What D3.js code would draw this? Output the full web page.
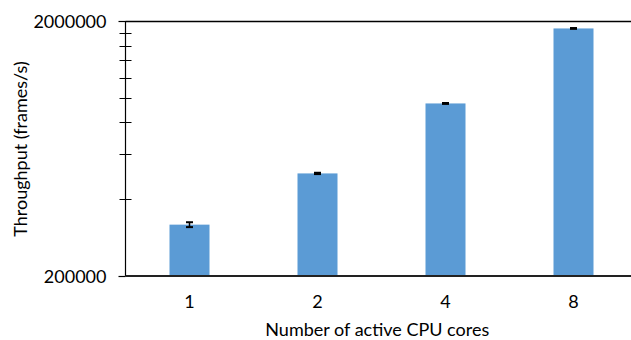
<!DOCTYPE html>
<html>
<head>
<meta charset="utf-8">
<script src="https://cdn.jsdelivr.net/npm/d3@7/dist/d3.min.js"></script>
<style>
  html, body { margin: 0; padding: 0; background: #fff; }
  svg { display: block; }
  text { font-family: Lato, "Open Sans", sans-serif; fill: #000; font-size: 18px; }
</style>
</head>
<body>
<svg id="chart" width="631" height="340"></svg>
<script>
// Throughput by number of active CPU cores (log scale)
const cores = ["1", "2", "4", "8"];
const throughput = [318000, 505000, 950000, 1870000];
const errors = [7000, 3000, 4000, 7000];
const yTickLabels = [200000, 2000000];
const yMinorTicks = [400000, 600000, 800000, 1000000, 1200000, 1400000, 1600000, 1800000];

const svg = d3.select("#chart");
const plotLeft = 125.5, plotRight = 637.5, plotTop = 21, plotBottom = 276;

const x = d3.scaleBand().domain(cores).range([plotLeft, plotRight]).paddingInner(0.6875).paddingOuter(0.34375);
const y = d3.scaleLog().domain([200000, 2000000]).range([plotBottom, plotTop]);

// top frame line
svg.append("line")
  .attr("x1", plotLeft).attr("x2", 631).attr("y1", plotTop + 0.5).attr("y2", plotTop + 0.5)
  .attr("stroke", "#000").attr("stroke-width", 1.5);

// bars
svg.append("g").selectAll("rect").data(cores).join("rect")
  .attr("x", d => x(d))
  .attr("width", x.bandwidth())
  .attr("y", (d, i) => y(throughput[i]))
  .attr("height", (d, i) => plotBottom - y(throughput[i]))
  .attr("fill", "#5B9BD5");

// error bars
const eb = svg.append("g").attr("stroke", "#000").attr("stroke-width", 1.5);
cores.forEach((d, i) => {
  const cx = x(d) + x.bandwidth() / 2;
  const y0 = y(throughput[i] - errors[i]);
  const y1 = y(throughput[i] + errors[i]);
  eb.append("line").attr("x1", cx).attr("x2", cx).attr("y1", y0).attr("y2", y1);
  eb.append("line").attr("x1", cx - 3.5).attr("x2", cx + 3.5).attr("y1", y0).attr("y2", y0).attr("stroke-width", 2);
  eb.append("line").attr("x1", cx - 3.5).attr("x2", cx + 3.5).attr("y1", y1).attr("y2", y1).attr("stroke-width", 2);
});

// y axis: labeled major ticks outside, minor ticks crossing the axis
const yAxis = svg.append("g").attr("transform", `translate(${plotLeft},0)`);
yAxis.append("line").attr("x1", 0).attr("x2", 0).attr("y1", plotTop).attr("y2", plotBottom + 0.5)
  .attr("stroke", "#000").attr("stroke-width", 1.2);
yAxis.selectAll(".minor").data(yMinorTicks).join("line")
  .attr("x1", -6).attr("x2", 6)
  .attr("y1", d => Math.round(y(d)) + 0.5).attr("y2", d => Math.round(y(d)) + 0.5)
  .attr("stroke", "#000").attr("stroke-width", 1);
yAxis.selectAll(".major").data(yTickLabels).join("line")
  .attr("x1", -7).attr("x2", 0)
  .attr("y1", d => Math.round(y(d)) + 0.5).attr("y2", d => Math.round(y(d)) + 0.5)
  .attr("stroke", "#000").attr("stroke-width", 1.2);
yAxis.selectAll("text").data(yTickLabels).join("text")
  .attr("x", -19).attr("y", d => y(d) + 6.5)
  .attr("text-anchor", "end")
  .text(d => d);

// x axis line
svg.append("line")
  .attr("x1", plotLeft).attr("x2", 631).attr("y1", plotBottom).attr("y2", plotBottom)
  .attr("stroke", "#222").attr("stroke-width", 2);

// x tick labels
svg.append("g").selectAll("text").data(cores).join("text")
  .attr("x", d => x(d) + x.bandwidth() / 2)
  .attr("y", 308)
  .attr("text-anchor", "middle")
  .text(d => d);

// axis titles
svg.append("text")
  .attr("x", (plotLeft + 631) / 2 - 1)
  .attr("y", 336)
  .attr("text-anchor", "middle")
  .text("Number of active CPU cores");

svg.append("text")
  .attr("transform", "translate(27,149) rotate(-90)")
  .attr("text-anchor", "middle")
  .text("Throughput (frames/s)");
</script>
</body>
</html>
